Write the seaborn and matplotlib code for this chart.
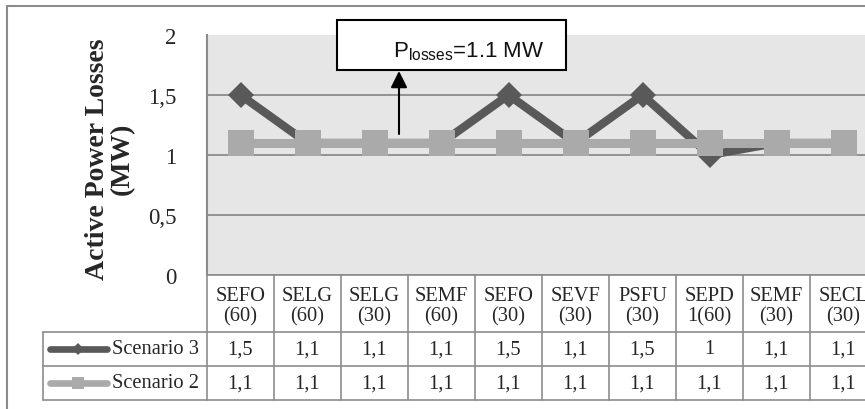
import numpy as np
import pandas as pd
import matplotlib
matplotlib.use("Agg")
import matplotlib.pyplot as plt
import seaborn as sns
from matplotlib.lines import Line2D
from matplotlib.patches import Rectangle, FancyArrowPatch

# ---------------- data ----------------
categories = ["SEFO\n(60)", "SELG\n(60)", "SELG\n(30)", "SEMF\n(60)", "SEFO\n(30)",
              "SEVF\n(30)", "PSFU\n(30)", "SEPD\n1(60)", "SEMF\n(30)", "SECL\n(30)"]
scenario3 = [1.5, 1.1, 1.1, 1.1, 1.5, 1.1, 1.5, 1.0, 1.1, 1.1]
scenario2 = [1.1, 1.1, 1.1, 1.1, 1.1, 1.1, 1.1, 1.1, 1.1, 1.1]
series_names = ["Scenario 3", "Scenario 2"]
ytick_values = [0, 0.5, 1, 1.5, 2]
ytick_labels = ["0", "0,5", "1", "1,5", "2"]
annotation_text = r"P$_{\mathregular{losses}}$=1.1 MW"
ylabel_text = "Active Power Losses\n(MW)"

DARK = "#595959"
LIGHT = "#aaaaaa"
GRID = "#8c8c8c"

sns.set_style("white")
plt.rcParams["font.family"] = ["Liberation Serif", "DejaVu Serif"]

ann_family, ann_size = "Liberation Sans", 16
plt.rcParams["mathtext.fontset"] = "custom"
plt.rcParams["mathtext.rm"] = ann_family

W, H = 865, 410
fig = plt.figure(figsize=(W / 100, H / 100), dpi=100)
fig.patch.set_facecolor("white")

def fx(px):
    return px / W

def fy(py):
    return 1 - py / H

# main plot area: x 207..877 px, y 36..276 px
ax = fig.add_axes([fx(207), fy(276), (877 - 207) / W, (276 - 36) / H])
ax.set_facecolor("#e6e6e6")

n = len(categories)
pos = np.arange(n)
df = pd.DataFrame({"pos": np.concatenate([pos, pos]),
                   "value": scenario3 + scenario2,
                   "series": [series_names[0]] * n + [series_names[1]] * n})

sns.lineplot(data=df[df.series == series_names[0]], x="pos", y="value", ax=ax,
             color=DARK, linewidth=6, marker="D", markersize=13.5,
             markeredgewidth=0, legend=False, zorder=3)
sns.lineplot(data=df[df.series == series_names[1]], x="pos", y="value", ax=ax,
             color=LIGHT, linewidth=6.5, marker="s", markersize=18.5,
             markeredgewidth=0, legend=False, zorder=4)

ax.set_xlim(-0.5, n - 0.5)
ax.set_ylim(0, 2)
ax.set_xticks([])
ax.set_xlabel("")
ax.set_ylabel("")
ax.set_yticks(ytick_values, ytick_labels)
ax.tick_params(axis="y", length=0, pad=22, labelsize=16.5)
ax.yaxis.grid(True, color=GRID, linewidth=1.3)
ax.set_axisbelow(True)
ax.get_ygridlines()[-1].set_visible(False)
for s in ["top", "right", "bottom"]:
    ax.spines[s].set_visible(False)
ax.spines["left"].set_color(GRID)
ax.spines["left"].set_linewidth(1.5)

# y label
fig.text(fx(110), fy(159), ylabel_text, rotation=90, ha="center", va="center",
         fontsize=20, fontweight="bold", linespacing=1.0, multialignment="center")

# ---------------- data table ----------------
col_w = 67.0
tab_left, tab_right, tab_top, tab_bot = 43, 877, 276, 401
tax = fig.add_axes([fx(tab_left), fy(tab_bot), (tab_right - tab_left) / W,
                    (tab_bot - tab_top) / H])
x0 = -0.5 - (207 - tab_left) / col_w
tax.set_xlim(x0, n - 0.5)
tax.set_ylim(tab_bot - tab_top, 0)
tax.axis("off")

def xu(px):
    return -0.5 + (px - 207) / col_w

LW = 1.2
hdr, r1, r2 = 57, 91, 125
tax.plot([-0.5, n - 0.5], [0, 0], color=GRID, lw=LW, clip_on=False)
for yy in [hdr, r1, r2]:
    tax.plot([x0, n - 0.5], [yy, yy], color=GRID, lw=LW, clip_on=False)
for k in range(n + 1):
    tax.plot([-0.5 + k, -0.5 + k], [0, r2], color=GRID, lw=LW, clip_on=False)
tax.plot([x0, x0], [hdr, r2], color=GRID, lw=LW, clip_on=False)

def fmt(v):
    return f"{v:g}".replace(".", ",")

TFS = 14.8
for i, cat in enumerate(categories):
    tax.text(i, 30.5, cat, ha="center", va="center", fontsize=TFS,
             linespacing=1.1, clip_on=False)
    tax.text(i, (hdr + r1) / 2, fmt(scenario3[i]), ha="center", va="center",
             fontsize=TFS, clip_on=False)
    tax.text(i, (r1 + r2) / 2, fmt(scenario2[i]), ha="center", va="center",
             fontsize=TFS, clip_on=False)

# legend keys in row labels
for (yc, name, col, mk, ms) in [((hdr + r1) / 2, series_names[0], DARK, "D", 6),
                                ((r1 + r2) / 2, series_names[1], LIGHT, "s", 8)]:
    tax.add_line(Line2D([xu(50), xu(107)], [yc, yc], color=col, lw=4.8,
                        solid_capstyle="round", clip_on=False))
    tax.add_line(Line2D([xu(78)], [yc], color=col, marker=mk, markersize=ms,
                        markeredgewidth=0, clip_on=False))
    tax.text(xu(199), yc, name, ha="right", va="center", fontsize=TFS,
             clip_on=False)

# ---------------- annotation ----------------
fig.add_artist(Rectangle((fx(337), fy(71)), (566 - 337) / W, (71 - 21) / H,
                         transform=fig.transFigure, facecolor="white",
                         edgecolor="black", linewidth=1.5, zorder=10))
fig.text(fx(393), fy(57), annotation_text, ha="left", va="baseline",
         fontsize=ann_size, family=ann_family, color="#111111", zorder=11)
fig.add_artist(FancyArrowPatch(
    (fx(399), fy(135)), (fx(399), fy(72)), transform=fig.transFigure,
    arrowstyle="-|>", mutation_scale=25, color="black", lw=1.5,
    shrinkA=0, shrinkB=0, zorder=10))

# outer frame
fig.add_artist(Line2D([fx(7), fx(7)], [0, fy(7)], transform=fig.transFigure,
                      color=GRID, lw=1.5))
fig.add_artist(Line2D([fx(7), 1], [fy(7), fy(7)], transform=fig.transFigure,
                      color=GRID, lw=1.5))

fig.savefig("out.png", dpi=100)
